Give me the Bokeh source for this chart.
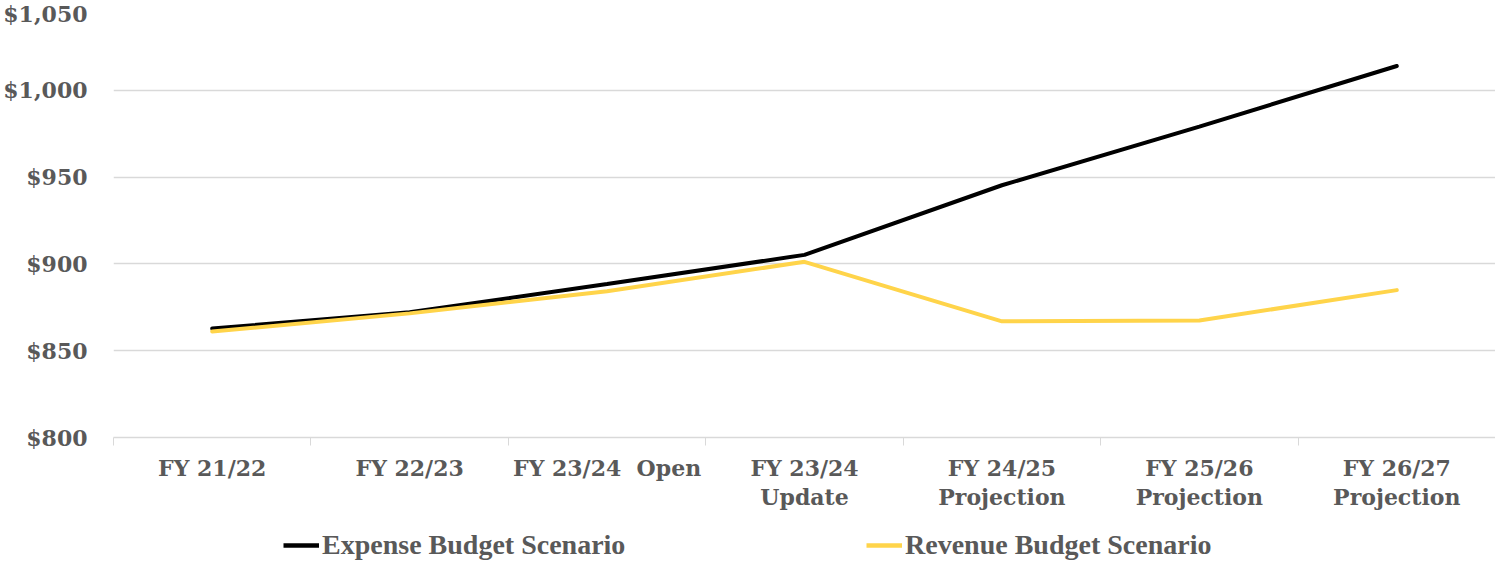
from bokeh.plotting import figure
from bokeh.models import FixedTicker, NumeralTickFormatter, Legend, LegendItem, Range1d
from bokeh.layouts import column
from bokeh.embed import file_html
from bokeh.resources import INLINE

categories = ["FY 21/22", "FY 22/23", "FY 23/24 \u00a0Open", "FY 23/24\nUpdate",
              "FY 24/25\nProjection", "FY 25/26\nProjection", "FY 26/27\nProjection"]
expense = [862.8, 872.1, 888.4, 905.2, 945.3, 979.1, 1014.0]
revenue = [861.0, 871.5, 884.3, 901.2, 866.9, 867.4, 884.9]
y_ticks = [800, 850, 900, 950, 1000, 1050]
series_names = ["Expense Budget Scenario", "Revenue Budget Scenario"]
series_colors = ["black", "#FFD44A"]

FONT = "DejaVu Serif"
GRAY = "#595959"

xs = [i + 0.5 for i in range(len(categories))]

p = figure(width=1495, height=527, output_backend="svg", toolbar_location=None,
           x_range=Range1d(0, len(categories)), y_range=Range1d(800, 1050),
           min_border_left=107, min_border_right=0, min_border_top=3, min_border_bottom=90)
p.outline_line_color = None

p.xaxis.ticker = FixedTicker(ticks=xs, minor_ticks=list(range(len(categories))))
p.xaxis.major_label_overrides = {x: c for x, c in zip(xs, categories)}
p.xaxis.major_tick_line_color = None
p.xaxis.minor_tick_line_color = "#D9D9D9"
p.xaxis.minor_tick_in = 0
p.xaxis.minor_tick_out = 8
p.xaxis.axis_line_color = "#D9D9D9"
p.xaxis.axis_line_width = 1.5
p.xaxis.major_label_text_font = FONT
p.xaxis.major_label_text_font_style = "bold"
p.xaxis.major_label_text_font_size = "22px"
p.xaxis.major_label_text_color = GRAY
p.xaxis.major_label_standoff = 9
p.xaxis.major_label_text_line_height = 1.15
p.xgrid.visible = False

p.yaxis.ticker = FixedTicker(ticks=y_ticks)
p.yaxis.formatter = NumeralTickFormatter(format="$0,0")
p.yaxis.axis_line_color = None
p.yaxis.major_tick_line_color = None
p.yaxis.minor_tick_line_color = None
p.yaxis.major_label_text_font = FONT
p.yaxis.major_label_text_font_style = "bold"
p.yaxis.major_label_text_font_size = "22px"
p.yaxis.major_label_text_color = GRAY
p.yaxis.major_label_standoff = 20
p.ygrid.grid_line_color = "#D9D9D9"
p.ygrid.grid_line_width = 1.5

p.line(xs, expense, line_color=series_colors[0], line_width=4, line_cap="round")
p.line(xs, revenue, line_color=series_colors[1], line_width=4, line_cap="round")

# legend strip below the chart (its frame is aligned with the chart's frame)
lg = figure(width=1495, height=34, output_backend="svg", toolbar_location=None,
            x_range=Range1d(0, 1), y_range=Range1d(0, 1),
            x_axis_type=None, y_axis_type=None,
            min_border=0, min_border_left=0, min_border_right=0, min_border_top=0, min_border_bottom=0)
lg.grid.visible = False
lg.outline_line_color = None
items = []
for name, col in zip(series_names, series_colors):
    r = lg.line([5, 6], [5, 6], line_color=col, line_width=4.5)
    items.append(LegendItem(label=name, renderers=[r]))
legend = Legend(items=items, orientation="horizontal", location=(170, 0),
                label_text_font="Liberation Serif", label_text_font_style="bold",
                label_text_font_size="28px", label_text_color=GRAY,
                glyph_width=36, glyph_height=26, label_height=26,
                label_standoff=3, label_width=430, spacing=114,
                padding=0, margin=0, border_line_color=None, background_fill_alpha=0)
lg.add_layout(legend, "center")

open("out.html", "w").write(file_html(column(p, lg, spacing=0), INLINE))
